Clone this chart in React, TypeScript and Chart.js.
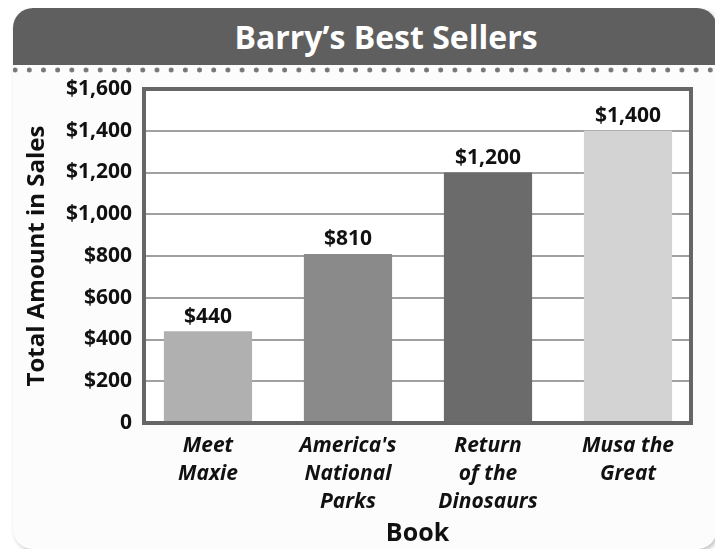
import React, { useEffect, useRef } from "react";
import { Chart, registerables } from "chart.js";

Chart.register(...registerables);

const chartTitle = "Barry’s Best Sellers";
const bookLabels: string[][] = [
  ["Meet", "Maxie"],
  ["America's", "National", "Parks"],
  ["Return", "of the", "Dinosaurs"],
  ["Musa the", "Great"],
];
const salesValues = [440, 810, 1200, 1400];
const barColors = ["#b0b0b0", "#8a8a8a", "#6b6b6b", "#d3d3d3"];
const yTickValues = [0, 200, 400, 600, 800, 1000, 1200, 1400, 1600];
const yAxisTitle = "Total Amount in Sales";
const xAxisTitle = "Book";

const FONT = "'Open Sans', 'Noto Sans', sans-serif";

const fmt = (v: number) => (v === 0 ? "0" : "$" + v.toLocaleString("en-US"));

const framePlugin = {
  id: "frameAndLabels",
  beforeDraw(chart: any) {
    const { ctx, chartArea: a } = chart;
    ctx.save();
    ctx.fillStyle = "#ffffff";
    ctx.fillRect(a.left, a.top, a.right - a.left, a.bottom - a.top);
    ctx.restore();
  },
  afterDatasetsDraw(chart: any) {
    const { ctx, chartArea: a } = chart;
    ctx.save();
    ctx.strokeStyle = "#666666";
    ctx.lineWidth = 4;
    ctx.strokeRect(a.left, a.top, a.right - a.left, a.bottom - a.top);
    const meta = chart.getDatasetMeta(0);
    ctx.fillStyle = "#111111";
    ctx.font = `bold 21px ${FONT}`;
    ctx.textAlign = "center";
    ctx.textBaseline = "bottom";
    meta.data.forEach((bar: any, i: number) => {
      ctx.fillText(fmt(salesValues[i]), bar.x, bar.y - 4);
    });
    ctx.restore();
  },
};

export default function App() {
  const ref = useRef<HTMLCanvasElement | null>(null);

  useEffect(() => {
    if (!ref.current) return;
    const chart = new Chart(ref.current, {
      type: "bar",
      data: {
        datasets: [
          {
            data: salesValues.map((v, i) => ({ x: i, y: v })),
            backgroundColor: barColors,
            borderWidth: 0,
            barPercentage: 0.63,
            categoryPercentage: 1,
          },
        ],
      },
      options: {
        animation: false,
        responsive: false,
        devicePixelRatio: 1,
        layout: { padding: { top: 81, right: 26, left: 0, bottom: 0 } },
        plugins: {
          legend: { display: false },
          tooltip: { enabled: false },
        },
        scales: {
          x: {
            type: "linear",
            offset: false,
            min: -0.457,
            max: 3.45,
            afterBuildTicks: (scale: any) => {
              scale.ticks = bookLabels.map((_, i) => ({ value: i }));
            },
            afterFit: (scale: any) => {
              scale.height = 126;
            },
            grid: { display: false, drawTicks: false, offset: false },
            border: { display: false },
            ticks: {
              autoSkip: false,
              maxRotation: 0,
              padding: 9,
              color: "#111111",
              font: { family: FONT, size: 21, weight: "bold", style: "italic", lineHeight: 1.33 },
              callback: (v: any) => bookLabels[Math.round(Number(v))] ?? "",
            },
            title: {
              display: true,
              text: xAxisTitle,
              color: "#111111",
              font: { family: FONT, size: 25, weight: "bold" },
              padding: { top: 0, bottom: 0 },
            },
          },
          y: {
            min: 0,
            max: 1600,
            afterBuildTicks: (scale: any) => {
              scale.ticks = yTickValues.map((v) => ({ value: v }));
            },
            afterFit: (scale: any) => {
              scale.width = 131;
            },
            grid: {
              color: "#a0a0a0",
              lineWidth: 2,
              drawTicks: false,
            },
            border: { display: false },
            ticks: {
              padding: 12,
              color: "#111111",
              font: { family: FONT, size: 21, weight: "bold" },
              callback: (v: any) => fmt(Number(v)),
            },
            title: {
              display: true,
              text: yAxisTitle,
              color: "#111111",
              font: { family: FONT, size: 24, weight: "bold" },
              padding: { top: 10, bottom: 0 },
            },
          },
        },
      },
      plugins: [framePlugin],
    } as any);
    return () => chart.destroy();
  }, []);

  return (
    <div
      style={{
        position: "relative",
        marginLeft: 5,
        width: 704,
        height: 541,
        borderRadius: 20,
        background: "#fcfcfc",
        boxShadow: "2px 2px 4px rgba(0,0,0,0.25)",
        overflow: "hidden",
      }}
    >
      <div
        style={{
          position: "absolute",
          top: 0,
          left: 0,
          width: 704,
          height: 57,
          boxSizing: "border-box",
          paddingLeft: 42,
          background: "#5f5f5f",
          color: "#ffffff",
          textAlign: "center",
          lineHeight: "57px",
          fontFamily: FONT,
          fontWeight: 700,
          fontSize: 32,
          fontStretch: "normal",
        }}
      >
        {chartTitle}
      </div>
      <div
        style={{
          position: "absolute",
          top: 59,
          left: 0,
          width: 704,
          height: 6,
          backgroundImage:
            "radial-gradient(circle at center, #777 0, #777 2.2px, transparent 2.8px)",
          backgroundSize: "14.2px 6px",
          backgroundPosition: "-5px 0",
        }}
      />
      <canvas
        ref={ref}
        width={704}
        height={541}
        style={{ position: "absolute", top: 0, left: 0, width: 704, height: 541 }}
      />
    </div>
  );
}
